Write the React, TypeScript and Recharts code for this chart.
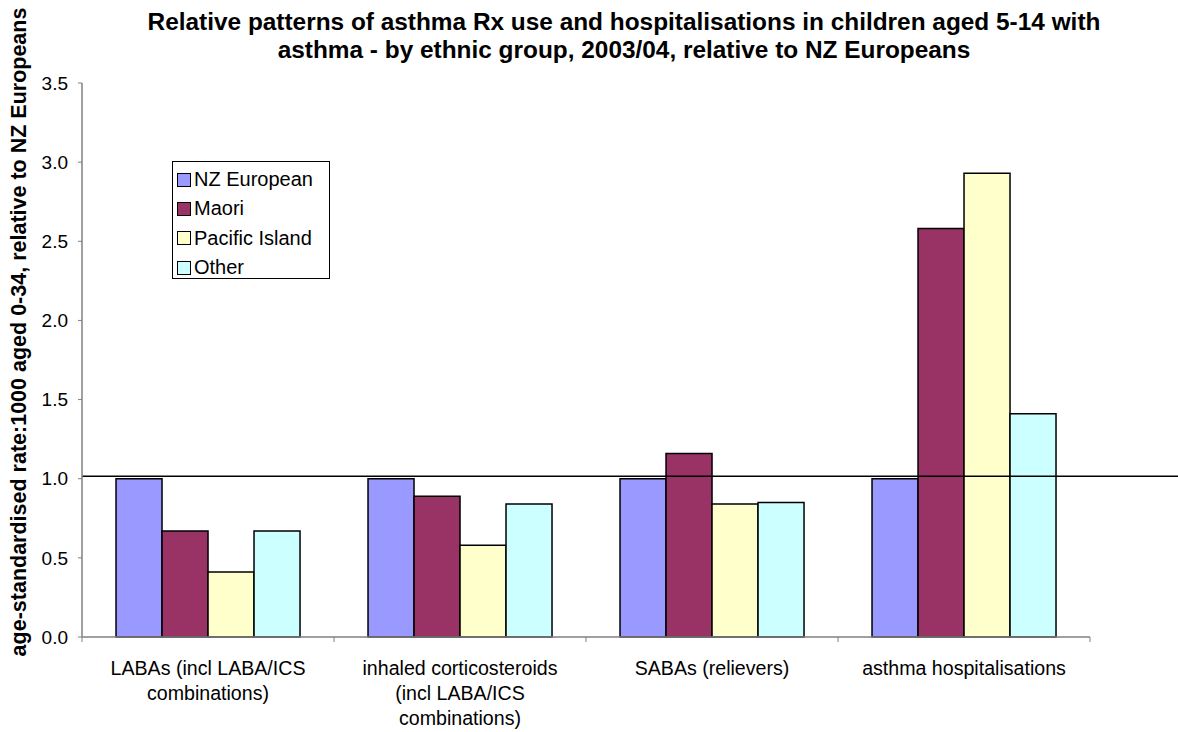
import React from 'react';
import { BarChart, Bar, XAxis, YAxis, Legend, ReferenceLine } from 'recharts';

// categories and tick labels (split the way the original wraps them)
const CATEGORIES = [
  'LABAs (incl LABA/ICS combinations)',
  'inhaled corticosteroids (incl LABA/ICS combinations)',
  'SABAs (relievers)',
  'asthma hospitalisations',
];
const CATEGORY_LINES = [
  ['LABAs (incl LABA/ICS', 'combinations)'],
  ['inhaled corticosteroids', '(incl LABA/ICS', 'combinations)'],
  ['SABAs (relievers)'],
  ['asthma hospitalisations'],
];

// rate relative to NZ Europeans
const NZ_EUROPEAN = [1.0, 1.0, 1.0, 1.0];
const MAORI = [0.67, 0.89, 1.16, 2.58];
const PACIFIC_ISLAND = [0.41, 0.58, 0.84, 2.93];
const OTHER = [0.67, 0.84, 0.85, 1.41];

const Y_TICKS = [0, 0.5, 1, 1.5, 2, 2.5, 3, 3.5];
const BASELINE = 1.015;

const SERIES = [
  { key: 'nzEuropean', name: 'NZ European', color: '#9999FF', values: NZ_EUROPEAN },
  { key: 'maori', name: 'Maori', color: '#993366', values: MAORI },
  { key: 'pacific', name: 'Pacific Island', color: '#FFFFCC', values: PACIFIC_ISLAND },
  { key: 'other', name: 'Other', color: '#CCFFFF', values: OTHER },
];

const FONT = 'Arial, "Liberation Sans", Helvetica, sans-serif';
const WIDTH = 1178;
const HEIGHT = 732;
const PLOT_LEFT = 82;
const PLOT_RIGHT = 1090;
const AXIS_GREY = '#808080';

const chartData = CATEGORIES.map((c, i) => {
  const row: any = { category: c };
  SERIES.forEach((s) => (row[s.key] = s.values[i]));
  return row;
});

// x tick: wrapped label plus tick marks on the category boundaries
const CategoryTick = ({ x, y, payload, index }: any) => {
  const band = (PLOT_RIGHT - PLOT_LEFT) / CATEGORIES.length;
  const lines = CATEGORY_LINES[index] || [payload.value];
  const last = index === CATEGORIES.length - 1;
  return (
    <g>
      <line x1={x - band / 2} y1={y} x2={x - band / 2} y2={y + 5} stroke={AXIS_GREY} strokeWidth={1} />
      {last && <line x1={x + band / 2} y1={y} x2={x + band / 2} y2={y + 5} stroke={AXIS_GREY} strokeWidth={1} />}
      <text x={x} y={y + 38} textAnchor="middle" fontSize={19.6} fill="#000">
        {lines.map((l: string, i: number) => (
          <tspan key={i} x={x} dy={i === 0 ? 0 : 25}>
            {l}
          </tspan>
        ))}
      </text>
    </g>
  );
};

const LegendBox = () => (
  <div
    style={{
      border: '1px solid #000',
      background: '#fff',
      width: 158,
      height: 118,
      boxSizing: 'border-box',
      padding: '3px 0 0 4px',
      fontFamily: FONT,
      fontSize: 20,
    }}
  >
    {SERIES.map((s) => (
      <div key={s.key} style={{ display: 'flex', alignItems: 'center', height: 29.3, whiteSpace: 'nowrap' }}>
        <span
          style={{
            display: 'inline-block',
            width: 12,
            height: 12,
            background: s.color,
            border: '1.5px solid #000',
            marginRight: 3,
          }}
        />
        <span>{s.name}</span>
      </div>
    ))}
  </div>
);

const YLabel = () => (
  <text
    x={26}
    y={332}
    transform="rotate(-90 26 332)"
    textAnchor="middle"
    fontSize={21.5}
    fontWeight="bold"
    fill="#000"
  >
    age-standardised rate:1000 aged 0-34, relative to NZ Europeans
  </text>
);

export default function App() {
  return (
    <div style={{ position: 'absolute', left: 0, top: 0, width: WIDTH, height: HEIGHT, background: '#fff', fontFamily: FONT }}>
      <div
        style={{
          position: 'absolute',
          left: 0,
          top: 8,
          width: 1248,
          textAlign: 'center',
          fontSize: 24.4,
          fontWeight: 'bold',
          lineHeight: '28px',
          zIndex: 2,
        }}
      >
        Relative patterns of asthma Rx use and hospitalisations in children aged 5-14 with
        <br />
        asthma - by ethnic group, 2003/04, relative to NZ Europeans
      </div>
      <BarChart
        width={WIDTH}
        height={HEIGHT}
        data={chartData}
        margin={{ top: 83, right: WIDTH - PLOT_RIGHT, bottom: 0, left: PLOT_LEFT - 60 }}
        barCategoryGap="13.5%"
        barGap={0}
      >
        <XAxis
          dataKey="category"
          height={95}
          interval={0}
          tickLine={false}
          tickSize={0}
          tickMargin={0}
          axisLine={{ stroke: AXIS_GREY, strokeWidth: 1.5 }}
          tick={<CategoryTick />}
        />
        <YAxis
          width={60}
          domain={[0, 3.5]}
          ticks={Y_TICKS}
          interval={0}
          tickFormatter={(v: number) => v.toFixed(1)}
          tickSize={4}
          tickMargin={10}
          tick={{ fontSize: 19, fill: '#000' }}
          tickLine={{ stroke: AXIS_GREY }}
          axisLine={{ stroke: AXIS_GREY, strokeWidth: 1.5 }}
          label={{ content: () => <YLabel /> }}
        />
        <Legend
          layout="vertical"
          align="center"
          verticalAlign="middle"
          wrapperStyle={{ left: 172, top: 161, width: 158, height: 118 }}
          content={() => <LegendBox />}
        />
        {SERIES.map((s) => (
          <Bar
            key={s.key}
            dataKey={s.key}
            name={s.name}
            fill={s.color}
            stroke="#000"
            strokeWidth={1.5}
            isAnimationActive={false}
          />
        ))}
        <ReferenceLine
          y={BASELINE}
          ifOverflow="visible"
          shape={(p: any) => (
            <line x1={p.x1} y1={p.y1} x2={WIDTH} y2={p.y2} stroke="#000" strokeWidth={1.5} />
          )}
        />
      </BarChart>
    </div>
  );
}
